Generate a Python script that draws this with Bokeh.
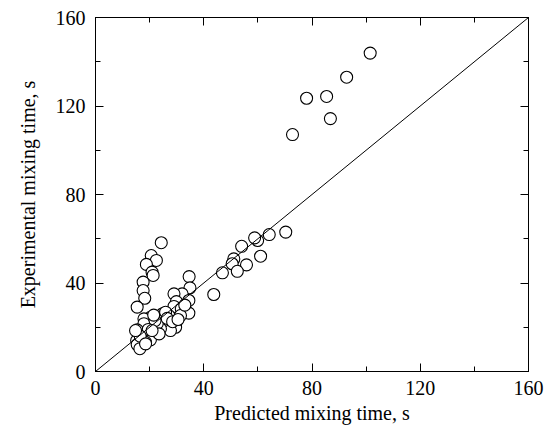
from bokeh.plotting import figure
from bokeh.models import Range1d, LinearAxis, SingleIntervalTicker, Slope, CustomLabelingPolicy
from bokeh.embed import file_html
from bokeh.resources import INLINE

predicted = [101.5, 92.8, 85.4, 78.0, 86.8, 72.8, 70.3, 64.2, 59.9, 58.8, 61.0, 54.0,
             51.1, 50.5, 55.8, 52.4, 46.9, 43.7, 24.3, 20.6, 22.5, 18.8, 20.9, 21.3,
             17.6, 17.6, 18.2, 15.4, 34.6, 34.9, 32.0, 29.0, 34.5, 29.9, 29.0, 31.7,
             34.5, 31.4, 27.1, 24.6, 26.2, 29.6, 27.7, 24.0, 22.8, 20.3, 17.9, 17.9,
             15.4, 20.9, 17.9, 20.3, 15.2, 15.4, 16.4, 18.5, 24.8, 25.9, 22.0, 19.5,
             23.5, 26.5, 28.5, 30.5, 16.5, 21.5, 33.0, 18.5, 20.9, 14.8]
experimental = [143.9, 133.0, 124.3, 123.5, 114.3, 107.1, 63.0, 61.9, 59.2, 60.4, 52.1, 56.6,
                50.9, 48.7, 48.2, 45.3, 44.6, 34.8, 58.2, 52.4, 50.2, 48.4, 44.9, 43.4,
                40.4, 36.6, 33.1, 29.1, 42.9, 37.8, 35.1, 35.1, 32.1, 31.6, 29.4, 28.3,
                26.4, 25.3, 25.3, 23.8, 21.2, 20.0, 18.5, 19.3, 21.6, 24.5, 23.8, 21.6,
                18.8, 17.0, 15.5, 14.3, 14.0, 12.2, 10.3, 13.2, 26.1, 26.8, 23.0, 19.0,
                17.0, 24.0, 22.5, 23.5, 16.0, 25.5, 30.0, 12.5, 18.5, 18.5]

FONT = "Liberation Serif"

p = figure(frame_width=433, frame_height=354, output_backend="svg", toolbar_location=None,
           x_range=Range1d(0, 160), y_range=Range1d(0, 160),
           min_border_left=95, min_border_right=25, min_border_top=17, min_border_bottom=61,
           x_axis_label="Predicted mixing time, s", y_axis_label="Experimental mixing time, s")
p.background_fill_color = "white"
p.border_fill_color = "white"
p.outline_line_color = "black"
p.outline_line_width = 1
p.grid.visible = False

p.add_layout(Slope(gradient=1, y_intercept=0, line_color="black", line_width=1))

p.scatter(predicted, experimental, size=12, marker="circle", fill_color="white",
          line_color="black", line_width=1.1)

hide_labels = CustomLabelingPolicy(code="""
    for (const i of Array.from(indices)) indices.unset(i)
    return indices
""")

def style(ax, labels=True):
    ax.ticker = SingleIntervalTicker(interval=40, num_minor_ticks=2)
    ax.axis_line_color = "black"
    ax.major_tick_line_color = "black"
    ax.minor_tick_line_color = "black"
    ax.major_tick_in = 8
    ax.major_tick_out = 0
    ax.minor_tick_in = 5
    ax.minor_tick_out = 0
    ax.major_label_text_font = FONT
    ax.major_label_text_font_size = "20px"
    ax.major_label_text_color = "black"
    ax.axis_label_text_font = FONT
    ax.axis_label_text_font_size = "20px"
    ax.axis_label_text_font_style = "normal"
    ax.axis_label_text_color = "black"
    if not labels:
        ax.major_label_policy = hide_labels
        ax.major_label_standoff = 0

style(p.xaxis[0])
style(p.yaxis[0])
p.xaxis[0].major_label_standoff = 9
p.xaxis[0].axis_label_standoff = 4
p.yaxis[0].major_label_standoff = 10
p.yaxis[0].axis_label_standoff = 14

top = LinearAxis()
style(top, labels=False)
p.add_layout(top, "above")
right = LinearAxis()
style(right, labels=False)
p.add_layout(right, "right")

open("out.html", "w").write(file_html(p, INLINE))
